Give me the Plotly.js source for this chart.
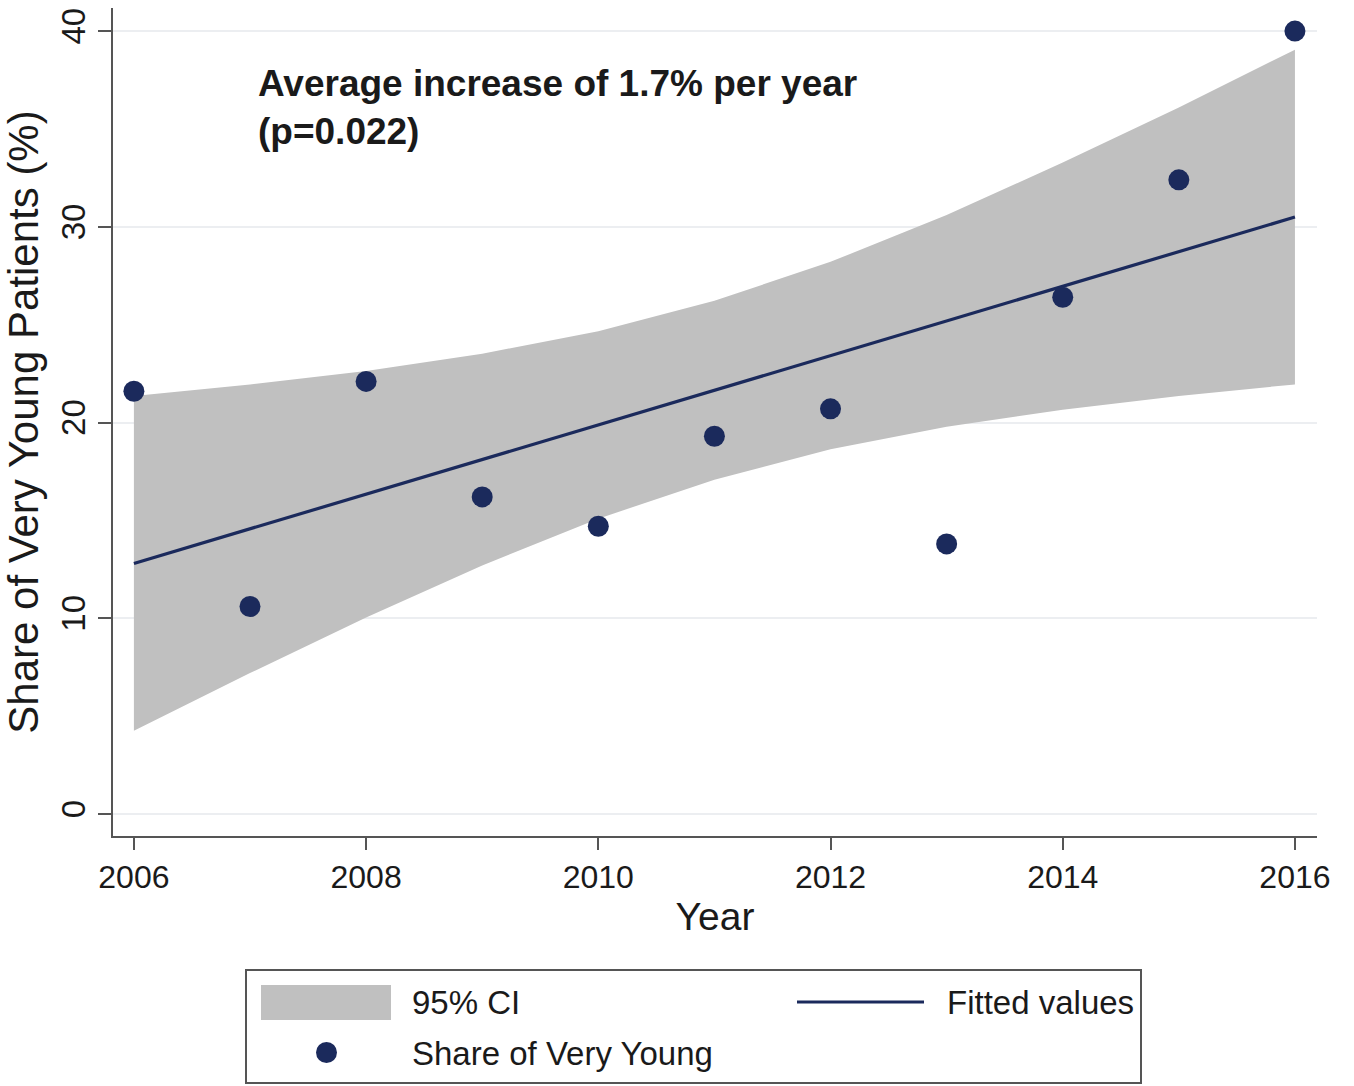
<!DOCTYPE html>
<html>
<head>
<meta charset="utf-8">
<script src="https://cdn.plot.ly/plotly-3.0.1.min.js"></script>
<style>html,body{margin:0;padding:0;background:#fff;}#chart{width:1354px;height:1086px;}</style>
</head>
<body>
<div id="chart"></div>
<script>
// ---- data ----
const years = [2006, 2007, 2008, 2009, 2010, 2011, 2012, 2013, 2014, 2015, 2016];
const shareVeryYoung = [21.6, 10.6, 22.1, 16.2, 14.7, 19.3, 20.7, 13.8, 26.4, 32.4, 40.0];
const fittedValues = [12.8, 14.57, 16.34, 18.11, 19.88, 21.65, 23.42, 25.19, 26.96, 28.73, 30.5];
const ciUpper = [21.35, 21.94, 22.64, 23.52, 24.67, 26.22, 28.21, 30.60, 33.28, 36.10, 39.05];
const ciLower = [4.25, 7.20, 10.04, 12.70, 15.09, 17.08, 18.63, 19.78, 20.66, 21.36, 21.95];
const xTickVals = [2006, 2008, 2010, 2012, 2014, 2016];
const yTickVals = [0, 10, 20, 30, 40];
const legendLabels = ['95% CI', 'Fitted values', 'Share of Very Young'];
const noteLines = ['Average increase of 1.7% per year', '(p=0.022)'];

// ---- styling ----
const FONT = 'Liberation Sans, Arial, Helvetica, sans-serif';
const NAVY = '#1b2a5c';
const BAND = '#c0c0c0';
const AXIS = '#555555';
const TXT = '#1a1a1a';

// plot-area geometry in pixels
const L = 113, T = 8, W = 1204, H = 828;
const px = p => (p - L) / W;          // pixel x -> paper x
const py = p => (T + H - p) / H;      // pixel y -> paper y

const traces = [
  { x: years, y: ciLower, type: 'scatter', mode: 'lines', line: { width: 0, color: BAND },
    hoverinfo: 'skip', showlegend: false },
  { x: years, y: ciUpper, type: 'scatter', mode: 'lines', line: { width: 0, color: BAND },
    fill: 'tonexty', fillcolor: BAND, name: legendLabels[0], showlegend: false },
  { x: years, y: fittedValues, type: 'scatter', mode: 'lines', line: { width: 3.2, color: NAVY },
    name: legendLabels[1], showlegend: false },
  { x: years, y: shareVeryYoung, type: 'scatter', mode: 'markers',
    marker: { size: 21, color: NAVY }, name: legendLabels[2], showlegend: false }
];

const shapes = [
  // legend frame
  { type: 'rect', xref: 'paper', yref: 'paper', x0: px(246), x1: px(1141), y0: py(1083), y1: py(970),
    line: { color: AXIS, width: 2 }, fillcolor: 'rgba(0,0,0,0)' },
  // CI swatch
  { type: 'rect', xref: 'paper', yref: 'paper', x0: px(261), x1: px(391), y0: py(1020), y1: py(985),
    line: { width: 0 }, fillcolor: BAND },
  // fitted line swatch
  { type: 'line', xref: 'paper', yref: 'paper', x0: px(797), x1: px(924), y0: py(1002), y1: py(1002),
    line: { color: NAVY, width: 3 } },
  // marker swatch
  { type: 'circle', xref: 'paper', yref: 'paper', x0: px(316), x1: px(337), y0: py(1063), y1: py(1042),
    line: { width: 0 }, fillcolor: NAVY }
];

const annotations = [
  { xref: 'paper', yref: 'paper', x: px(256), y: py(61), xanchor: 'left', yanchor: 'top', align: 'left',
    showarrow: false, text: noteLines.map(s => '<b>' + s + '</b>').join('<br>'),
    font: { family: FONT, size: 37, color: TXT } },
  { xref: 'paper', yref: 'paper', x: px(410), y: py(1002), xanchor: 'left', yanchor: 'middle',
    showarrow: false, text: legendLabels[0], font: { family: FONT, size: 33, color: TXT } },
  { xref: 'paper', yref: 'paper', x: px(945), y: py(1002), xanchor: 'left', yanchor: 'middle',
    showarrow: false, text: legendLabels[1], font: { family: FONT, size: 33, color: TXT } },
  { xref: 'paper', yref: 'paper', x: px(410), y: py(1053), xanchor: 'left', yanchor: 'middle',
    showarrow: false, text: legendLabels[2], font: { family: FONT, size: 33, color: TXT } }
];

const layout = {
  width: 1354, height: 1086,
  margin: { l: L, r: 1354 - L - W, t: T, b: 1086 - T - H, pad: 0 },
  paper_bgcolor: '#ffffff', plot_bgcolor: '#ffffff',
  showlegend: false,
  font: { family: FONT, color: TXT },
  xaxis: {
    range: [2005.82, 2016.19], tickvals: xTickVals, ticktext: xTickVals.map(String),
    showgrid: false, zeroline: false, showline: true, linecolor: AXIS, linewidth: 2,
    ticks: 'outside', ticklen: 12, tickwidth: 2, tickcolor: AXIS,
    tickfont: { family: FONT, size: 32, color: TXT },
    title: { text: 'Year', font: { family: FONT, size: 39, color: TXT }, standoff: 8 }
  },
  yaxis: {
    range: [-1.124, 41.18], tickvals: yTickVals, ticktext: yTickVals.map(String), tickangle: -90,
    showgrid: true, gridcolor: '#eceef1', gridwidth: 2, zeroline: false,
    showline: true, linecolor: AXIS, linewidth: 2,
    ticks: 'outside', ticklen: 13, tickwidth: 2, tickcolor: AXIS,
    tickfont: { family: FONT, size: 33, color: TXT },
    title: { text: 'Share of Very Young Patients (%)', font: { family: FONT, size: 42, color: TXT }, standoff: 6 }
  },
  shapes: shapes,
  annotations: annotations
};

Plotly.newPlot('chart', traces, layout, { displayModeBar: false, staticPlot: true });
</script>
</body>
</html>
